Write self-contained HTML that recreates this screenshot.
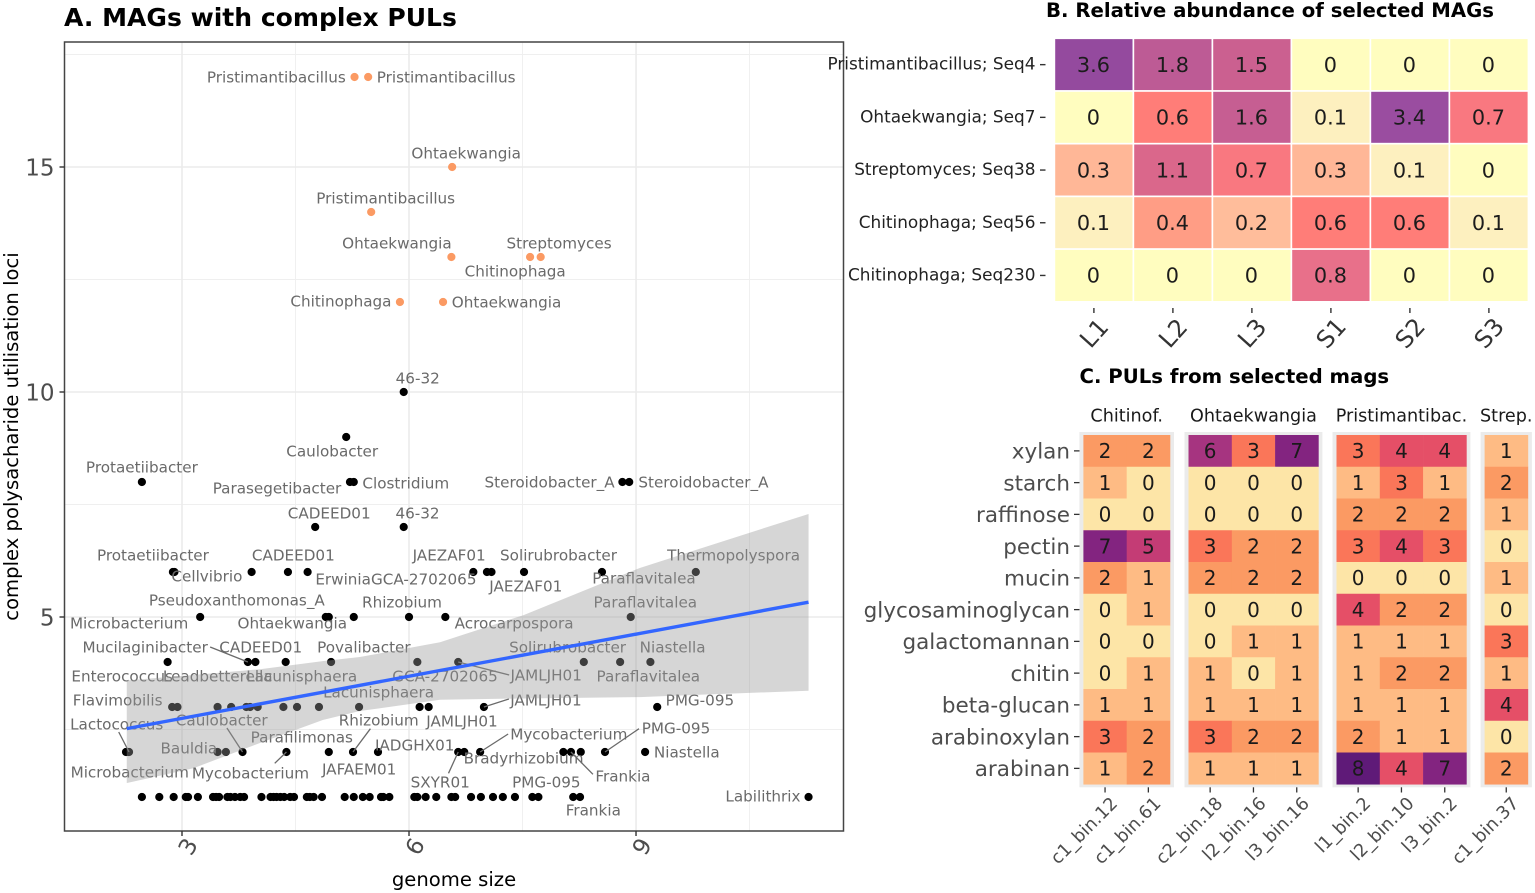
<!DOCTYPE html>
<html lang="en">
<head>
<meta charset="utf-8">
<title>MAGs with complex PULs</title>
<style>
html,body{margin:0;padding:0;background:#fff;width:1535px;height:893px;overflow:hidden}
svg{display:block;font-family:"DejaVu Sans","Liberation Sans",sans-serif}
</style>
</head>
<body>
<svg id="figure" xmlns="http://www.w3.org/2000/svg" width="1535" height="893" viewBox="0 0 1535 893">
  <text x="64" y="26" font-size="25.05" font-weight="700" fill="#000">A. MAGs with complex PULs</text>
  <text x="1046" y="17" font-size="19.7" font-weight="700" fill="#000">B. Relative abundance of selected MAGs</text>
  <text x="1079.5" y="383" font-size="19.7" font-weight="700" fill="#000">C. PULs from selected mags</text>
  <text transform="translate(18,436.5) rotate(-90)" text-anchor="middle" font-size="19.6" fill="#000">complex polysacharide utilisation loci</text>
  <text x="454" y="886" text-anchor="middle" font-size="19.6" fill="#000">genome size</text>
  <g id="panel-a"></g>
  <g id="panel-b"></g>
  <g id="panel-c"></g>
</svg>
<script>
/* ---------- Panel A data ---------- */
const xTicks = [3, 6, 9];
const yTicks = [5, 10, 15];
const xMinorTicks = [4.5, 7.5, 10.5];
const yMinorTicks = [2.5, 7.5, 12.5, 17.5];

const highGenome = [5.28, 5.46, 6.57, 5.50, 6.56, 7.60, 7.74, 5.88, 6.45];
const highLoci = [17, 17, 15, 14, 13, 13, 13, 12, 12];
const highNames = ["Pristimantibacillus", "Pristimantibacillus", "Ohtaekwangia", "Pristimantibacillus", "Ohtaekwangia", "Streptomyces", "Chitinophaga", "Chitinophaga", "Ohtaekwangia"];

const genomeSize = [
  5.93, 5.17,
  2.47, 5.22, 5.27, 8.82, 8.91,
  4.76, 5.93,
  2.88, 2.90, 3.92, 4.40, 4.66, 6.85, 7.03, 7.09, 7.52, 8.55, 9.79,
  3.24, 4.90, 4.94, 5.27, 6.00, 6.48, 8.93,
  2.81, 3.87, 3.97, 4.37, 4.97, 6.11, 6.65, 8.31, 8.79, 9.19,
  2.87, 2.94, 3.47, 3.65, 3.85, 3.90, 4.00, 4.34, 4.52, 4.81, 5.34, 6.14, 6.26, 6.99, 9.28,
  2.26, 2.30, 3.47, 3.58, 3.80, 4.38, 4.94, 5.26, 5.59, 6.65, 6.73, 6.94, 8.04, 8.14, 8.27, 8.59, 9.12,
  2.47, 2.70, 2.89, 3.05, 3.08, 3.21, 3.41, 3.45, 3.49, 3.60, 3.64, 3.70, 3.77, 3.82,
  4.05, 4.17, 4.21, 4.25, 4.30, 4.35, 4.43, 4.48, 4.65, 4.69, 4.74, 4.85,
  5.15, 5.27, 5.39, 5.48, 5.63, 5.66, 5.74, 6.07, 6.11, 6.22, 6.36, 6.56, 6.61,
  6.82, 6.95, 7.11, 7.24, 7.40, 7.63, 7.71, 8.17, 8.26, 11.28
];
const pulCount = [
  10, 9,
  8, 8, 8, 8, 8,
  7, 7,
  6, 6, 6, 6, 6, 6, 6, 6, 6, 6, 6,
  5, 5, 5, 5, 5, 5, 5,
  4, 4, 4, 4, 4, 4, 4, 4, 4, 4,
  3, 3, 3, 3, 3, 3, 3, 3, 3, 3, 3, 3, 3, 3, 3,
  2, 2, 2, 2, 2, 2, 2, 2, 2, 2, 2, 2, 2, 2, 2, 2, 2,
  1, 1, 1, 1, 1, 1, 1, 1, 1, 1, 1, 1, 1, 1,
  1, 1, 1, 1, 1, 1, 1, 1, 1, 1, 1, 1,
  1, 1, 1, 1, 1, 1, 1, 1, 1, 1, 1, 1, 1,
  1, 1, 1, 1, 1, 1, 1, 1, 1, 1
];
const magNames = [
  "46-32", "Caulobacter",
  "Protaetiibacter", "Parasegetibacter", "Clostridium", "Steroidobacter_A", "Steroidobacter_A",
  "CADEED01", "46-32",
  "Protaetiibacter", "Cellvibrio", "CADEED01", "", "ErwiniaGCA-2702065", "JAEZAF01", "", "JAEZAF01", "Solirubrobacter", "Paraflavitalea", "Thermopolyspora",
  "Pseudoxanthomonas_A", "Ohtaekwangia", "", "", "Rhizobium", "Acrocarpospora", "Paraflavitalea",
  "Microbacterium", "Mucilaginibacter", "CADEED01", "", "Povalibacter", "GCA-2702065", "JAMLJH01", "Solirubrobacter", "Paraflavitalea", "Niastella",
  "Enterococcus", "Flavimobilis", "Leadbetterella", "", "", "", "", "Lacunisphaera", "", "", "Lacunisphaera", "", "JAMLJH01", "JAMLJH01", "PMG-095",
  "Microbacterium", "Lactococcus", "Bauldia", "", "Caulobacter", "Mycobacterium", "Parafilimonas", "Rhizobium", "IADGHX01", "SXYR01", "Bradyrhizobium", "Mycobacterium", "", "Frankia", "", "PMG-095", "Niastella",
  "", "", "", "", "", "", "", "", "", "", "", "", "", "",
  "", "", "", "", "", "", "", "", "", "", "", "",
  "", "", "JAFAEM01", "", "", "", "", "", "", "", "", "", "",
  "", "", "", "", "", "PMG-095", "", "", "Frankia", "Labilithrix"
];

const fitGenome = [2.27, 11.28];
const fitLoci = [2.52, 5.33];
const ribbonGenome = [2.27, 3.15, 4.03, 4.86, 5.35, 6.41, 7.51, 9.05, 9.79, 11.28];
const ribbonUpper = [3.59, 3.71, 3.84, 4.02, 4.11, 4.44, 5.04, 6.09, 6.49, 7.29];
const ribbonLower = [1.31, 1.64, 2.20, 2.71, 2.91, 3.16, 3.19, 3.22, 3.27, 3.36];

/* ---------- Panel B data ---------- */
const abundanceSamples = ["L1", "L2", "L3", "S1", "S2", "S3"];
const abundanceMags = ["Pristimantibacillus; Seq4", "Ohtaekwangia; Seq7", "Streptomyces; Seq38", "Chitinophaga; Seq56", "Chitinophaga; Seq230"];
const abundanceValues = [
  [3.6, 1.8, 1.5, 0, 0, 0],
  [0, 0.6, 1.6, 0.1, 3.4, 0.7],
  [0.3, 1.1, 0.7, 0.3, 0.1, 0],
  [0.1, 0.4, 0.2, 0.6, 0.6, 0.1],
  [0, 0, 0, 0.8, 0, 0]
];

/* ---------- Panel C data ---------- */
const substrates = ["xylan", "starch", "raffinose", "pectin", "mucin", "glycosaminoglycan", "galactomannan", "chitin", "beta-glucan", "arabinoxylan", "arabinan"];
const facetTitles = ["Chitinof.", "Ohtaekwangia", "Pristimantibac.", "Strep."];
const facetBins = [
  ["c1_bin.12", "c1_bin.61"],
  ["c2_bin.18", "l2_bin.16", "l3_bin.16"],
  ["l1_bin.2", "l2_bin.10", "l3_bin.2"],
  ["c1_bin.37"]
];
const facetCounts = [
  [[2,2],[1,0],[0,0],[7,5],[2,1],[0,1],[0,0],[0,1],[1,1],[3,2],[1,2]],
  [[6,3,7],[0,0,0],[0,0,0],[3,2,2],[2,2,2],[0,0,0],[0,1,1],[1,0,1],[1,1,1],[3,2,2],[1,1,1]],
  [[3,4,4],[1,3,1],[2,2,2],[3,4,3],[0,0,0],[4,2,2],[1,1,1],[1,2,2],[1,1,1],[2,1,1],[8,4,7]],
  [[1],[2],[1],[0],[1],[0],[3],[1],[4],[0],[2]]
];

/* ---------- helpers ---------- */
const NS = "http://www.w3.org/2000/svg";
function make(parent, tag, props, text) {
  const el = document.createElementNS(NS, tag);
  for (const k in props) el.setAttribute(k, props[k]);
  if (text !== undefined) el.textContent = text;
  parent.appendChild(el);
  return el;
}
function lerpColor(stops, v) {
  if (v <= stops[0][0]) return stops[0][1];
  for (let i = 1; i < stops.length; i++) {
    if (v <= stops[i][0]) {
      const a = stops[i - 1], b = stops[i];
      const t = (v - a[0]) / (b[0] - a[0]);
      const ca = [1, 3, 5].map(p => parseInt(a[1].substr(p, 2), 16));
      const cb = [1, 3, 5].map(p => parseInt(b[1].substr(p, 2), 16));
      return "rgb(" + ca.map((c, j) => Math.round(c + (cb[j] - c) * t)).join(",") + ")";
    }
  }
  return stops[stops.length - 1][1];
}

/* ---------- Panel A ---------- */
(function drawScatter() {
  const g = document.getElementById("panel-a");
  const left = 64.5, right = 843.5, top = 42, bottom = 831;
  const xScale = v => 182 + (v - 3) * 75.67;
  const yScale = v => 842 - v * 45;

  for (const t of xMinorTicks) {
    const el = make(g, "line", {x1: xScale(t), x2: xScale(t), y1: top, y2: bottom, stroke: "#efefef", "stroke-width": 0.9});
    
    
  }
  for (const t of yMinorTicks) {
    const el = make(g, "line", {x1: left, x2: right, y1: yScale(t), y2: yScale(t), stroke: "#efefef", "stroke-width": 0.9});
    
    
  }
  for (const t of xTicks) {
    const el = make(g, "line", {x1: xScale(t), x2: xScale(t), y1: top, y2: bottom, stroke: "#ebebeb", "stroke-width": 1.6});
    
    
  }
  for (const t of yTicks) {
    const el = make(g, "line", {x1: left, x2: right, y1: yScale(t), y2: yScale(t), stroke: "#ebebeb", "stroke-width": 1.6});
    
    
  }

  genomeSize.forEach((v, i) => {
    const c = make(g, "circle", {cx: xScale(v), cy: yScale(pulCount[i]), r: 4.1, fill: "#000"});
    
    
  });
  highGenome.forEach((v, i) => {
    const c = make(g, "circle", {cx: xScale(v), cy: yScale(highLoci[i]), r: 4.1, fill: "#fb9a63"});
    
    
  });

  const labelColor = "#6a6a6a";
  function drawLabel(name, px, py, off) {
    if (off[2] !== undefined) {
      const l = make(g, "line", {x1: px + off[2], y1: py + off[3], x2: px, y2: py, stroke: "#6a6a6a", "stroke-width": 1.3});
      
      
    }
    const t = make(g, "text", {x: px + off[0], y: py + off[1] + 5.3, "text-anchor": "middle", "font-size": 15.2, fill: labelColor}, name);
    
    
  }

  const highOffsets = [[-78.2,0],[78,0],[14,-14],[14.5,-14],[-54.5,-14],[29,-14],[-25.5,14],[-59,-1],[63.5,0]];
  highNames.forEach((n, i) => drawLabel(n, xScale(highGenome[i]), yScale(highLoci[i]), highOffsets[i]));

  /* repel offsets, in order of the named points */
  const offsets = [
    [14,-14],[-14,14],
    [0,-15],[-73,6],[52,1],[-72.8,0],[74.2,0],
    [14,-14],[13.8,-14],
    [-20,-17],[32.5,4],[41.7,-17],[88.3,7],[-24.2,-17],[34.3,14],[34.5,-17],[42,6],[37.8,-17],
    [36.7,-17],[-33.5,6],[-7,-15],[68.8,6],[14.6,-15],
    [-38.5,-39],[-102.7,-15,-37.7,-15],[5.3,-15],[32.8,-15],[27.7,14],[88,13,51,13],[-16.2,-15],[28.2,14],[22.2,-15],
    [-50,-31],[-59.8,-7],[0.2,-31],[18.3,-31],[19.5,-15],[33.3,14],[62,-7,25,-8],[42.7,-7],
    [3.8,20],[-12.3,-28,-10.3,-20],[-28.7,-4],[-20.8,-32,-15.6,-24],[-36,21,-11.7,11.3],[-27,-15],[25.7,-32,17.4,-23.3],[36.7,-7],[-18,30,-9.7,21.3],[59.3,6],[88.7,-18,28,-18],[52,24,22,22.3],[71,-24,34,-23.3],[41.7,0],
    [-3.7,-28],[14,-15],[13.3,13],[-45.6,-1]
  ];
  let k = 0;
  magNames.forEach((n, i) => {
    if (!n) return;
    drawLabel(n, xScale(genomeSize[i]), yScale(pulCount[i]), offsets[k++] || [0,-14]);
  });

  const upper = ribbonGenome.map((v, i) => xScale(v) + "," + yScale(ribbonUpper[i]));
  const lower = ribbonGenome.map((v, i) => xScale(v) + "," + yScale(ribbonLower[i])).reverse();
  const rib = make(g, "polygon", {points: upper.concat(lower).join(" "), fill: "#999999", "fill-opacity": 0.4});
  
  

  const fit = make(g, "line", {x1: xScale(fitGenome[0]), y1: yScale(fitLoci[0]), x2: xScale(fitGenome[1]), y2: yScale(fitLoci[1]), stroke: "#3366ff", "stroke-width": 3.4});
  
  

  const frame = make(g, "rect", {x: left, y: top, width: right - left, height: bottom - top, fill: "none", stroke: "#444", "stroke-width": 1.5});
  
  

  for (const t of yTicks) {
    const m = make(g, "line", {x1: 59.5, x2: left, y1: yScale(t), y2: yScale(t), stroke: "#333", "stroke-width": 1.4});
    
    
    const l = make(g, "text", {x: 54.5, y: yScale(t) + 8.3, "text-anchor": "end", "font-size": 23, fill: "#4d4d4d"}, t);
    
    
  }
  for (const t of xTicks) {
    const m = make(g, "line", {x1: xScale(t), x2: xScale(t), y1: bottom, y2: bottom + 5, stroke: "#333", "stroke-width": 1.4});
    
    
    const cx = xScale(t) + 6, cy = 846.5;
    const l = make(g, "text", {x: cx, y: cy + 8, "text-anchor": "middle", "font-size": 23, fill: "#4d4d4d", transform: "rotate(-60 " + cx + " " + cy + ")"}, t);
    
    
  }
})();

/* ---------- Panel B ---------- */
(function drawAbundance() {
  const g = document.getElementById("panel-b");
  const x0 = 1054.4, y0 = 38.3, cw = 79, ch = 52.7;
  const stops = [[0,"#fffdbf"],[0.1,"#fdf0bf"],[0.2,"#ffbd9b"],[0.3,"#ffb797"],[0.4,"#ff9d85"],[0.6,"#ff7d78"],[0.7,"#f97880"],[0.8,"#e8708a"],[1.1,"#da678b"],[1.5,"#cb6090"],[1.8,"#bd5b95"],[3.4,"#9a4da0"],[3.6,"#944a9e"]];
  const xCol = i => x0 + cw * i;
  const yRow = i => y0 + ch * i;
  abundanceValues.forEach((row, r) => {
    row.forEach((v, c) => {
      const cell = make(g, "rect", {x: xCol(c), y: yRow(r), width: cw, height: ch, fill: lerpColor(stops, v), stroke: "#fff", "stroke-width": 1.6});
      
      
      const t = make(g, "text", {x: xCol(c) + cw / 2 - 0.5, y: yRow(r) + ch / 2 + 7.2, "text-anchor": "middle", "font-size": 20.8, fill: "#1c1c1c"}, v);
      
      
    });
  });
  abundanceMags.forEach((n, r) => {
    const cy = yRow(r) + ch / 2;
    const m = make(g, "line", {x1: 1040, x2: 1045.5, y1: cy, y2: cy, stroke: "#333", "stroke-width": 1.4});
    
    
    const t = make(g, "text", {x: 1035.5, y: cy + 5, "text-anchor": "end", "font-size": 16.9, fill: "#222"}, n);
    
    
  });
  abundanceSamples.forEach((n, c) => {
    const cx = xCol(c) + cw / 2;
    const m = make(g, "line", {x1: cx, x2: cx, y1: 308, y2: 313, stroke: "#333", "stroke-width": 1.4});
    
    
    const t = make(g, "text", {x: cx, y: 341.5, "text-anchor": "middle", "font-size": 24, fill: "#333", transform: "rotate(-48 " + cx + " 333)"}, n);
    
    
  });
})();

/* ---------- Panel C ---------- */
(function drawPuls() {
  const g = document.getElementById("panel-c");
  const y0 = 435, rh = 31.75, cw = 43.3;
  const facetStart = [1083.4, 1188.5, 1336.5, 1484.6];
  const stops = [[0,"#fde5a7"],[1,"#febb84"],[2,"#fb9a63"],[3,"#fa7659"],[4,"#e54f67"],[5,"#c43c75"],[6,"#a63480"],[7,"#832480"],[8,"#5f1a78"]];
  const yRow = i => y0 + rh * i;

  facetCounts.forEach((rows, f) => {
    const x0 = facetStart[f];
    const n = facetBins[f].length;
    const bg = make(g, "rect", {x: x0 - 4, y: 432, width: cw * n + 8, height: 355.3, fill: "#ebebeb"});
    
    

    const strip = make(g, "text", {x: x0 + cw * n / 2, y: 421.5, "text-anchor": "middle", "font-size": 17.6, fill: "#1a1a1a"}, facetTitles[f]);
    
    

    rows.forEach((row, r) => {
      row.forEach((v, c) => {
        const cell = make(g, "rect", {x: x0 + cw * c, y: yRow(r), width: cw + 0.3, height: rh + 0.3, fill: lerpColor(stops, v)});
        
        
        const t = make(g, "text", {x: x0 + cw * c + cw / 2, y: yRow(r) + rh / 2 + 7.2, "text-anchor": "middle", "font-size": 20, fill: "#1a1a1a"}, v);
        
        
      });
    });

    facetBins[f].forEach((b, c) => {
      const cx = x0 + cw * c + cw / 2;
      const m = make(g, "line", {x1: cx, x2: cx, y1: 787.3, y2: 792.5, stroke: "#333", "stroke-width": 1.3});
      
      
      const ax = cx + 13.5, ay = 804.5;
      const t = make(g, "text", {x: ax, y: ay, "text-anchor": "end", "font-size": 17.8, fill: "#4d4d4d", transform: "rotate(-45 " + ax + " " + ay + ")"}, b);
      
      
    });
  });

  substrates.forEach((n, r) => {
    const cy = yRow(r) + rh / 2;
    const m = make(g, "line", {x1: 1074, x2: 1079.5, y1: cy, y2: cy, stroke: "#333", "stroke-width": 1.3});
    
    
    const t = make(g, "text", {x: 1070, y: cy + 7.8, "text-anchor": "end", "font-size": 21.5, fill: "#4d4d4d"}, n);
    
    
  });
})();
</script>
</body>
</html>
